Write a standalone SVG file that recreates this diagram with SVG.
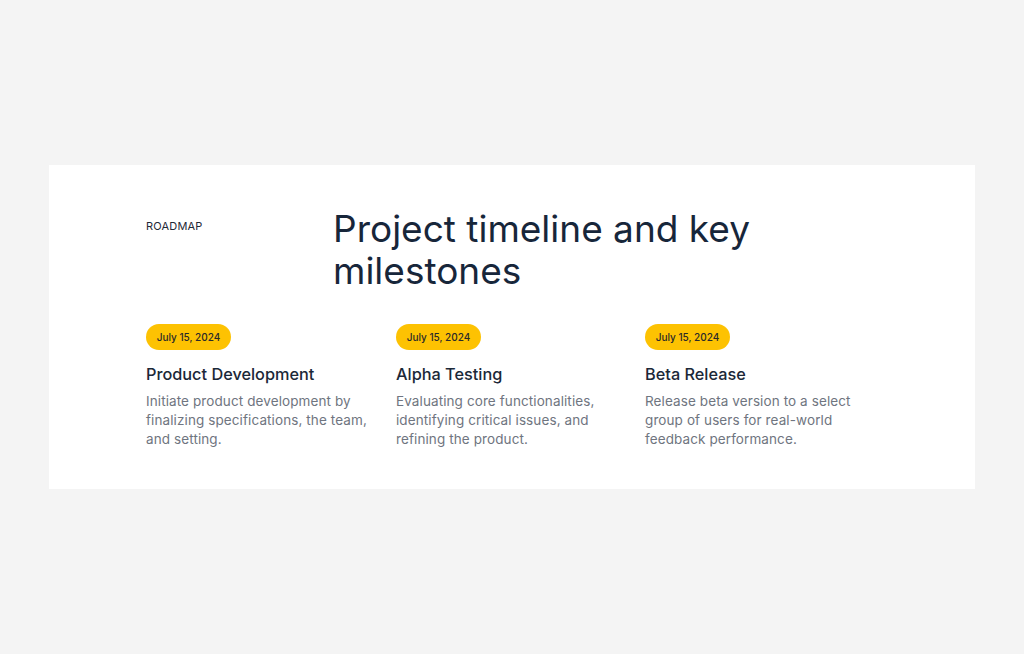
<svg xmlns="http://www.w3.org/2000/svg" width="1024" height="654" viewBox="0 0 1024 654">
<style>
text{font-family:Inter,"Open Sans","Liberation Sans",sans-serif}
.eyebrow{font-size:11px;fill:#1f2937;letter-spacing:0.2px}
.title{font-size:37px;fill:#17263a;font-weight:400}
.pill{fill:#fdc202}
.date{font-size:10px;font-weight:500;fill:#2a2a2a;text-anchor:middle}
.head{font-size:16.3px;font-weight:500;fill:#1b2838}
.body{font-size:13.5px;fill:#6f7580;letter-spacing:0.1px}
</style>
<rect width="1024" height="654" fill="#f4f4f4"/>
<rect x="49" y="165" width="926" height="324" fill="#ffffff"/>
<g id="header">
<text class="eyebrow" x="146" y="230">ROADMAP</text>
<text class="title" x="333" y="242">Project timeline and key</text>
<text class="title" x="333" y="284">milestones</text>
</g>
<g id="milestone-1">
<rect class="pill" x="146" y="324" width="85" height="26" rx="13"/>
<text class="date" x="188.5" y="341">July 15, 2024</text>
<text class="head" x="146" y="380">Product Development</text>
<text class="body" x="146" y="406">Initiate product development by</text>
<text class="body" x="146" y="425">finalizing specifications, the team,</text>
<text class="body" x="146" y="444">and setting.</text>
</g>
<g id="milestone-2">
<rect class="pill" x="396" y="324" width="85" height="26" rx="13"/>
<text class="date" x="438.5" y="341">July 15, 2024</text>
<text class="head" x="396" y="380">Alpha Testing</text>
<text class="body" x="396" y="406">Evaluating core functionalities,</text>
<text class="body" x="396" y="425">identifying critical issues, and</text>
<text class="body" x="396" y="444">refining the product.</text>
</g>
<g id="milestone-3">
<rect class="pill" x="645" y="324" width="85" height="26" rx="13"/>
<text class="date" x="687.5" y="341">July 15, 2024</text>
<text class="head" x="645" y="380">Beta Release</text>
<text class="body" x="645" y="406">Release beta version to a select</text>
<text class="body" x="645" y="425">group of users for real-world</text>
<text class="body" x="645" y="444">feedback performance.</text>
</g>
<g id="connectors"></g>
</svg>
